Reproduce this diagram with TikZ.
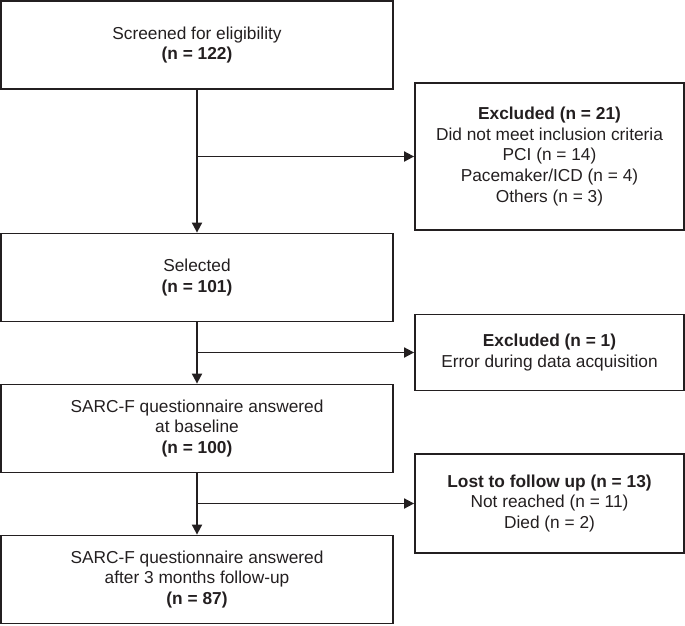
\documentclass[tikz,border=0pt]{standalone}
\usepackage{fontspec}
\setmainfont{Liberation Sans}
\usetikzlibrary{arrows.meta}
\definecolor{ink}{HTML}{231F20}
\begin{document}
\begin{tikzpicture}[
  x=1pt, y=-1pt,
  every node/.style={font=\fontsize{17.3}{20.8}\selectfont, text=ink, align=center},
  mainbox/.style={draw=ink, line width=1.8pt, minimum width=392pt, minimum height=88pt, inner sep=0pt},
  sidebox/.style={draw=ink, line width=1.8pt, minimum width=269pt, inner sep=0pt},
  flow/.style={draw=ink, line width=1.8pt, -{Triangle[length=10pt,width=10pt]}}
]
\useasboundingbox (0,0) rectangle (685,625);
\node[mainbox] (screen) at (197,45) {Screened for eligibility\\ \textbf{(n = 122)}};
\node[mainbox] (select) at (197,277.5) {Selected\\ \textbf{(n = 101)}};
\node[mainbox] (base) at (197,428.5) {SARC-F questionnaire answered\\ at baseline\\ \textbf{(n = 100)}};
\node[mainbox] (follow) at (197,579.5) {SARC-F questionnaire answered\\ after 3 months follow-up\\ \textbf{(n = 87)}};
\node[sidebox, minimum height=147.5pt] (excl1) at (549.5,156.5)
  {\textbf{Excluded (n = 21)}\\ Did not meet inclusion criteria\\ PCI (n = 14)\\ Pacemaker/ICD (n = 4)\\ Others (n = 3)};
\node[sidebox, minimum height=76pt] (excl2) at (549.5,352.5)
  {\textbf{Excluded (n = 1)}\\ Error during data acquisition};
\node[sidebox, minimum height=99pt] (lost) at (549.5,503.5)
  {\textbf{Lost to follow up (n = 13)}\\ Not reached (n = 11)\\ Died (n = 2)};
\draw[flow] (screen.south) -- (select.north);
\draw[flow] (select.south) -- (base.north);
\draw[flow] (base.south) -- (follow.north);
\draw[flow] (screen.south |- excl1.west) -- (excl1.west);
\draw[flow] (select.south |- excl2.west) -- (excl2.west);
\draw[flow] (base.south |- lost.west) -- (lost.west);
\end{tikzpicture}
\end{document}
